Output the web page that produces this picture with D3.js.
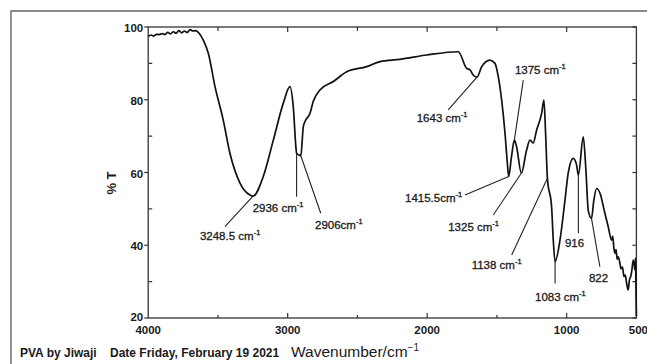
<!DOCTYPE html>
<html><head><meta charset="utf-8">
<script src="https://cdn.jsdelivr.net/npm/d3@7"></script>
<style>
html,body{margin:0;padding:0;background:#fff;}
svg{display:block;}
text{font-family:"Liberation Sans",Arial,sans-serif;fill:#1a1a1a;}
</style></head><body>
<svg id="c" width="647" height="364"></svg>
<script>
// ---- data ----
const wavenumbers = [4000,3980,3960,3940,3920,3900,3880,3860,3840,3820,3800,3780,3760,3740,3720,3700,3680,3665,
  3605,3569,3521,3462,3414,3342,3270,3248.5,3175,3103,3032,2984,2960,2940,2936,2917,2906,2888,2876,2840,2817,2769,
  2673,2577,2434,2338,2195,2004,1777,1717,1693,1670,1643,1609,1550,1514,1490,1466,1442,1425,1415.5,1395,1375,1359,1325,
  1287,1263,1240,1215,1179,1163,1151,1138,1108,1096,1083,1048,1012,989,953,929,916,881,862,845,822,805,785,761,726,702,
  678,670,662,654,646,638,630,618,610,600,589,580,570,559,550,541,533,523,515,511,506,503,500];
const transmittance = [97.4,97.8,97.5,98.0,97.9,98.2,97.9,98.5,98.1,98.7,98.3,99.0,98.4,98.9,98.5,99.3,98.9,99.0,
  96.4,92.8,83.6,74.4,65.3,57.1,53.8,53.5,58.9,68.9,79.0,83.6,78.1,66.5,65.3,64.8,64.6,72.6,74.0,76.3,79.5,82.7,
  85.0,87.7,89.1,90.5,91.1,92.3,93.2,88.6,88.2,86.8,86.2,89.1,90.9,90.0,86.3,79.9,70.8,62.5,58.9,64.5,68.9,67.1,59.8,
  66.2,68.9,68.1,71.7,76.3,79.9,70.8,58.4,50.6,41.4,35.5,41.4,52.4,59.8,63.9,62.1,59.3,69.8,60.7,49.5,47.4,52.4,55.6,54.3,48.8,45.1,
  41.4,42.5,39.5,37.8,38.8,36.2,36.8,35.0,33.5,34.0,31.4,31.8,29.5,27.7,30.5,31.4,33.0,35.9,34.5,33.2,36.5,28.0,20.5];
const xMajorTicks = [4000,3000,2000,1000,500];
const xMinorTicks = [3500,2500,1500];
const yMajorTicks = [20,40,60,80,100];
const yMinorTicks = [30,50,70,90];
// annotation labels: peak wavenumber/T, leader end (wavenumber,T), text start (wavenumber,T)
const peakLabels = ["3248.5 cm","2936 cm","2906cm","1643 cm","1375 cm","1415.5cm","1325 cm","1138 cm","1083 cm","916","822"];
const peakW = [3248.5,2936,2906,1643,1375,1415.5,1325,1138,1083,916,822];
const peakT = [53.5,65.3,64.6,86.2,68.9,58.9,59.8,58.4,35.5,59.3,47.4];
const leadW = [3450,2936,2763,1849,1311,1729,1526,1394,1083,916,762];
const leadT = [45.1,53.3,48.8,77.2,85.4,53.8,48.3,37.3,29.5,43.3,34.1];
const textW = [3629,3251,2804,2075,1371,2159,1849,1681,1227,1012,840];
const textT = [42.5,50.2,45.6,75.0,88.2,52.9,45.1,34.6,25.9,40.5,30.9];
const hasUnit = [true,true,true,true,true,true,true,true,true,false,false];

// ---- chart ----
const svg = d3.select("#c");
const x = d3.scaleLinear().domain([4000,500]).range([148.2,636.4]);
const y = d3.scaleLinear().domain([20,100]).range([318,27]);

// outer frame
svg.append("path").attr("d","M11,364V11H647").attr("fill","none").attr("stroke","#666").attr("stroke-width",1.4);

// plot box
svg.append("rect").attr("x",x(4000)).attr("y",y(100)).attr("width",x(500)-x(4000)).attr("height",y(20)-y(100))
  .attr("fill","none").attr("stroke","#333").attr("stroke-width",1.3);

const tk = svg.append("g").attr("stroke","#333").attr("stroke-width",1.2);
yMajorTicks.forEach(v=>tk.append("line").attr("x1",x(4000)-4).attr("x2",x(4000)).attr("y1",y(v)).attr("y2",y(v)));
yMinorTicks.forEach(v=>tk.append("line").attr("x1",x(4000)).attr("x2",x(4000)+4).attr("y1",y(v)).attr("y2",y(v)));
yMajorTicks.concat(yMinorTicks).forEach(v=>tk.append("line").attr("x1",x(500)-4).attr("x2",x(500)).attr("y1",y(v)).attr("y2",y(v)));
xMajorTicks.slice(1,4).forEach(v=>{
  tk.append("line").attr("x1",x(v)).attr("x2",x(v)).attr("y1",y(100)).attr("y2",y(100)+5);
  tk.append("line").attr("x1",x(v)).attr("x2",x(v)).attr("y1",y(20)).attr("y2",y(20)-5);
});
xMinorTicks.forEach(v=>{
  tk.append("line").attr("x1",x(v)).attr("x2",x(v)).attr("y1",y(100)).attr("y2",y(100)+4);
  tk.append("line").attr("x1",x(v)).attr("x2",x(v)).attr("y1",y(20)).attr("y2",y(20)-3);
});

// tick labels
yMajorTicks.forEach(v=>svg.append("text").attr("x",x(4000)-5).attr("y",y(v)+(v===20?-1:1)).attr("dy","0.35em")
  .attr("text-anchor","end").attr("font-size",11.5).attr("font-weight","bold").text(v));
xMajorTicks.forEach(v=>svg.append("text").attr("x",x(v)+(v===500?2:0)).attr("y",330).attr("dy","0.35em")
  .attr("text-anchor","middle").attr("font-size",11.5).attr("font-weight","bold").text(v));

// y label
svg.append("text").attr("transform","translate(116,183) rotate(-90)").attr("text-anchor","middle")
  .attr("font-size",13).attr("font-weight","bold").text("% T");

// x label
const xl = svg.append("text").attr("x",291).attr("y",357).attr("font-size",15.5);
xl.append("tspan").text("Wavenumber/cm");
xl.append("tspan").attr("dy",-6).attr("font-size",10).text("\u22121");

// footer
svg.append("text").attr("x",20).attr("y",357).attr("font-size",12).attr("font-weight","bold").text("PVA by Jiwaji");
svg.append("text").attr("x",110).attr("y",357).attr("font-size",12).attr("font-weight","bold").text("Date Friday, February 19 2021");

// spectrum
const data = wavenumbers.map((w,i)=>({w, t: transmittance[i]}));
svg.append("path").datum(data)
  .attr("d", d3.line().curve(d3.curveMonotoneX).x(d=>x(d.w)).y(d=>y(d.t)))
  .attr("fill","none").attr("stroke","#111").attr("stroke-width",1.7).attr("stroke-linejoin","round");

// annotations
const ag = svg.append("g");
peakLabels.forEach((lab,i)=>{
  ag.append("line").attr("x1",x(peakW[i])).attr("y1",y(peakT[i])).attr("x2",x(leadW[i])).attr("y2",y(leadT[i]))
    .attr("stroke","#222").attr("stroke-width",1.1);
  const t = ag.append("text").attr("x",x(textW[i])).attr("y",y(textT[i])).attr("dy","0.35em")
    .attr("font-size",11.5).attr("stroke","#1a1a1a").attr("stroke-width",0.3);
  t.append("tspan").text(lab);
  if(hasUnit[i]) t.append("tspan").attr("dy",-5).attr("font-size",7.5).text("-1");
});
</script>
</body></html>
